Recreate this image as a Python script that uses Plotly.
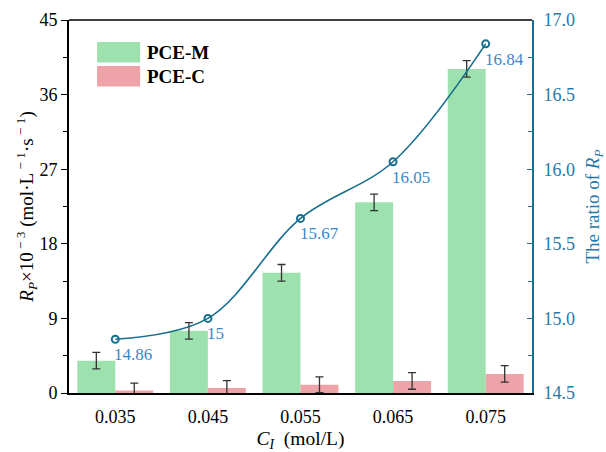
import plotly.graph_objects as go

categories = ["0.035", "0.045", "0.055", "0.065", "0.075"]
pce_m = [3.9, 7.5, 14.5, 23.0, 39.1]
pce_m_err = [1.0, 1.0, 1.0, 1.0, 1.0]
pce_c = [0.3, 0.6, 1.0, 1.45, 2.3]
pce_c_err = [0.9, 0.9, 0.95, 1.0, 1.0]
ratio = [14.86, 15.0, 15.67, 16.05, 16.84]
ratio_labels = ["14.86", "15", "15.67", "16.05", "16.84"]

GREEN = "#9de2ae"
PINK = "#eea3a9"
TEAL = "#176e8e"
TEAL_TXT = "#2878a8"
LABEL_BLUE = "#3a87c8"
FONT = "Liberation Serif"

fig = go.Figure()
fig.add_trace(go.Bar(
    x=categories, y=pce_m, name="PCE-M", marker=dict(color=GREEN, line=dict(width=0)),
    error_y=dict(type="data", array=pce_m_err, color="#333333", thickness=1.3, width=4),
    offsetgroup="m", showlegend=False,
))
fig.add_trace(go.Bar(
    x=categories, y=pce_c, name="PCE-C", marker=dict(color=PINK, line=dict(width=0)),
    error_y=dict(type="data", array=pce_c_err, color="#333333", thickness=1.3, width=4),
    offsetgroup="c", showlegend=False,
))
fig.add_trace(go.Scatter(
    x=categories, y=ratio, yaxis="y2", mode="lines+markers",
    line=dict(color=TEAL, width=1.6, shape="spline", smoothing=1.0),
    marker=dict(symbol="circle-open", size=7, color=TEAL, line=dict(width=2, color=TEAL)),
    showlegend=False,
))

for i, (v, t) in enumerate(zip(ratio, ratio_labels)):
    fig.add_annotation(x=i, xref="x", y=v, yref="y2", text=t, showarrow=False,
                       xanchor="left", yanchor="top", xshift=-3, yshift=-4,
                       font=dict(family=FONT, size=17, color=LABEL_BLUE))

# legend drawn as swatches + labels
legend_items = [("PCE-M", GREEN), ("PCE-C", PINK)]
for i, (name, col) in enumerate(legend_items):
    y_top = 0.941 - i * 0.064
    fig.add_shape(type="rect", xref="paper", yref="paper",
                  x0=0.0606, x1=0.1537, y0=y_top - 0.055, y1=y_top,
                  fillcolor=col, line=dict(width=0))
    fig.add_annotation(xref="paper", yref="paper", x=0.1645, y=y_top - 0.0275,
                       text="<b>" + name + "</b>", showarrow=False,
                       xanchor="left", yanchor="middle",
                       font=dict(family=FONT, size=19, color="black"))

fig.update_layout(
    width=606, height=452,
    margin=dict(l=69, r=74, t=20, b=59, autoexpand=False),
    paper_bgcolor="white", plot_bgcolor="white",
    barmode="group", bargap=0.18, bargroupgap=0,
    font=dict(family=FONT, size=18, color="black"),
    xaxis=dict(
        type="category", range=[-0.5, 4.5], automargin=False,
        showline=True, linecolor="black", linewidth=2, mirror=False,
        ticks="", ticklabelstandoff=6,
        tickfont=dict(family=FONT, size=18, color="black"),
        title=dict(text="<i>C<sub>I</sub></i>  (mol/L)", standoff=6,
                   font=dict(family=FONT, size=19.5, color="black")),
        showgrid=False, zeroline=False,
    ),
    yaxis=dict(
        range=[0, 45], tickvals=[0, 9, 18, 27, 36, 45], automargin=False,
        showline=True, linecolor="black", linewidth=1.6,
        ticks="outside", ticklen=6, tickwidth=1.2, tickcolor="black",
        minor=dict(tickvals=[4.5, 13.5, 22.5, 31.5, 40.5], ticks="outside", ticklen=4, tickcolor="black", tickwidth=1),
        tickfont=dict(family=FONT, size=18, color="black"),
        title=dict(text="<i>R<sub>P</sub></i>×10<sup> − 3</sup> (mol·L<sup> − 1</sup>·s<sup> − 1</sup>)",
                   standoff=0, font=dict(family=FONT, size=19, color="black")),
        showgrid=False, zeroline=False,
    ),
    yaxis2=dict(
        overlaying="y", side="right", range=[14.5, 17.0], automargin=False,
        tickvals=[14.5, 15.0, 15.5, 16.0, 16.5, 17.0], tickformat=".1f",
        showline=True, linecolor=TEAL, linewidth=2,
        ticks="inside", ticklen=5, tickwidth=1.2, tickcolor=TEAL,
        minor=dict(tickvals=[14.75, 15.25, 15.75, 16.25, 16.75], ticks="inside", ticklen=4, tickcolor=TEAL, tickwidth=1),
        ticklabelstandoff=6,
        tickfont=dict(family=FONT, size=18, color=TEAL_TXT),
        title=dict(text="The ratio of <i>R<sub>P</sub></i>", standoff=16,
                   font=dict(family=FONT, size=19, color=TEAL_TXT)),
        showgrid=False, zeroline=False,
    ),
)

# top border line
fig.add_shape(type="line", xref="paper", yref="paper", x0=0, x1=1, y0=1, y1=1,
              line=dict(color="black", width=1.4))

fig.write_html("out.html")
